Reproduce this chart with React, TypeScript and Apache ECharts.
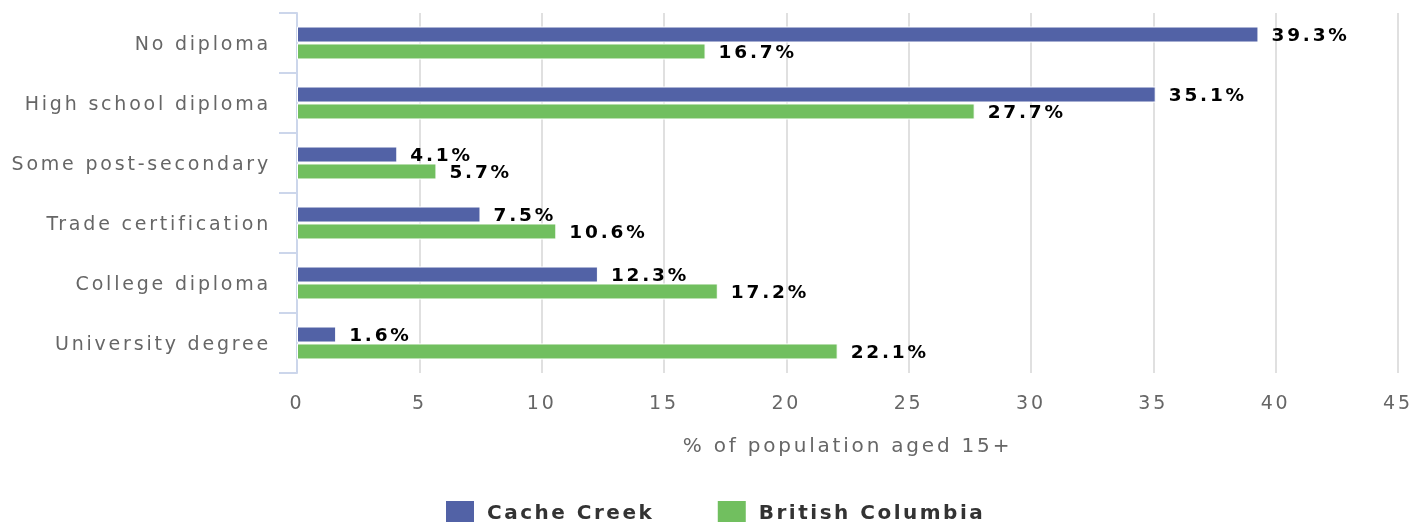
import React, { useEffect, useRef } from "react";
import * as echarts from "echarts";

const categories = [
  "No diploma",
  "High school diploma",
  "Some post-secondary",
  "Trade certification",
  "College diploma",
  "University degree",
];
const cacheCreek = [39.3, 35.1, 4.1, 7.5, 12.3, 1.6];
const britishColumbia = [16.7, 27.7, 5.7, 10.6, 17.2, 22.1];
const seriesNames = ["Cache Creek", "British Columbia"];
const xAxisTitle = "% of population aged 15+";

const FONT = "'DejaVu Sans', Verdana, sans-serif";

export default function App() {
  const ref = useRef<HTMLDivElement>(null);
  useEffect(() => {
    if (!ref.current) return;
    const chart = echarts.init(ref.current, undefined, { renderer: "svg" });
    const label = {
      show: true,
      position: "right",
      distance: 13,
      color: "#000",
      fontWeight: "bold",
      fontSize: 18.5,
      fontFamily: FONT,
      formatter: (p: any) => `${p.value}%`,
    };
    chart.setOption({
      animation: false,
      textStyle: { fontFamily: FONT },
      grid: { left: 297, right: 3, top: 13, bottom: 150, containLabel: false },
      legend: {
        top: 499,
        left: 444,
        padding: 0,
        itemWidth: 30,
        itemHeight: 23,
        itemGap: 89,
        icon: "rect",
        textStyle: {
          fontSize: 20,
          color: "#333",
          fontFamily: FONT,
          fontWeight: "bold",
          padding: [0, 0, 0, 7],
        },
        data: seriesNames,
      },
      xAxis: {
        type: "value",
        min: 0,
        max: 45,
        interval: 5,
        name: xAxisTitle,
        nameLocation: "middle",
        nameGap: 62,
        nameTextStyle: { fontSize: 20, color: "#666", fontFamily: FONT },
        axisLine: { show: false },
        axisTick: { show: false },
        axisLabel: { fontSize: 19, color: "#666", margin: 19, fontFamily: FONT },
        splitLine: { lineStyle: { color: "#e0e0e0", width: 2 } },
      },
      yAxis: {
        type: "category",
        inverse: true,
        data: categories,
        axisLine: { show: true, lineStyle: { color: "#ccd6eb", width: 2 } },
        axisTick: { show: true, length: 18, lineStyle: { color: "#ccd6eb", width: 2 } },
        axisLabel: { fontSize: 19, color: "#666", margin: 26, fontFamily: FONT },
      },
      series: [
        {
          name: seriesNames[0],
          type: "bar",
          data: cacheCreek,
          barWidth: 16,
          barGap: "6%",
          itemStyle: { color: "#5262a6", borderColor: "#fff", borderWidth: 1 },
          label,
        },
        {
          name: seriesNames[1],
          type: "bar",
          data: britishColumbia,
          barWidth: 16,
          barGap: "6%",
          itemStyle: { color: "#71bf5f", borderColor: "#fff", borderWidth: 1 },
          label,
        },
      ],
    });
    return () => chart.dispose();
  }, []);
  return (
    <>
      <style>{`.chartbox text[fill="#333"]{letter-spacing:2.5px}`}</style>
      <div
        ref={ref}
        className="chartbox"
        style={{
          position: "fixed",
          left: 0,
          top: 0,
          width: 1413,
          height: 523,
          letterSpacing: "2.8px",
        }}
      />
    </>
  );
}
